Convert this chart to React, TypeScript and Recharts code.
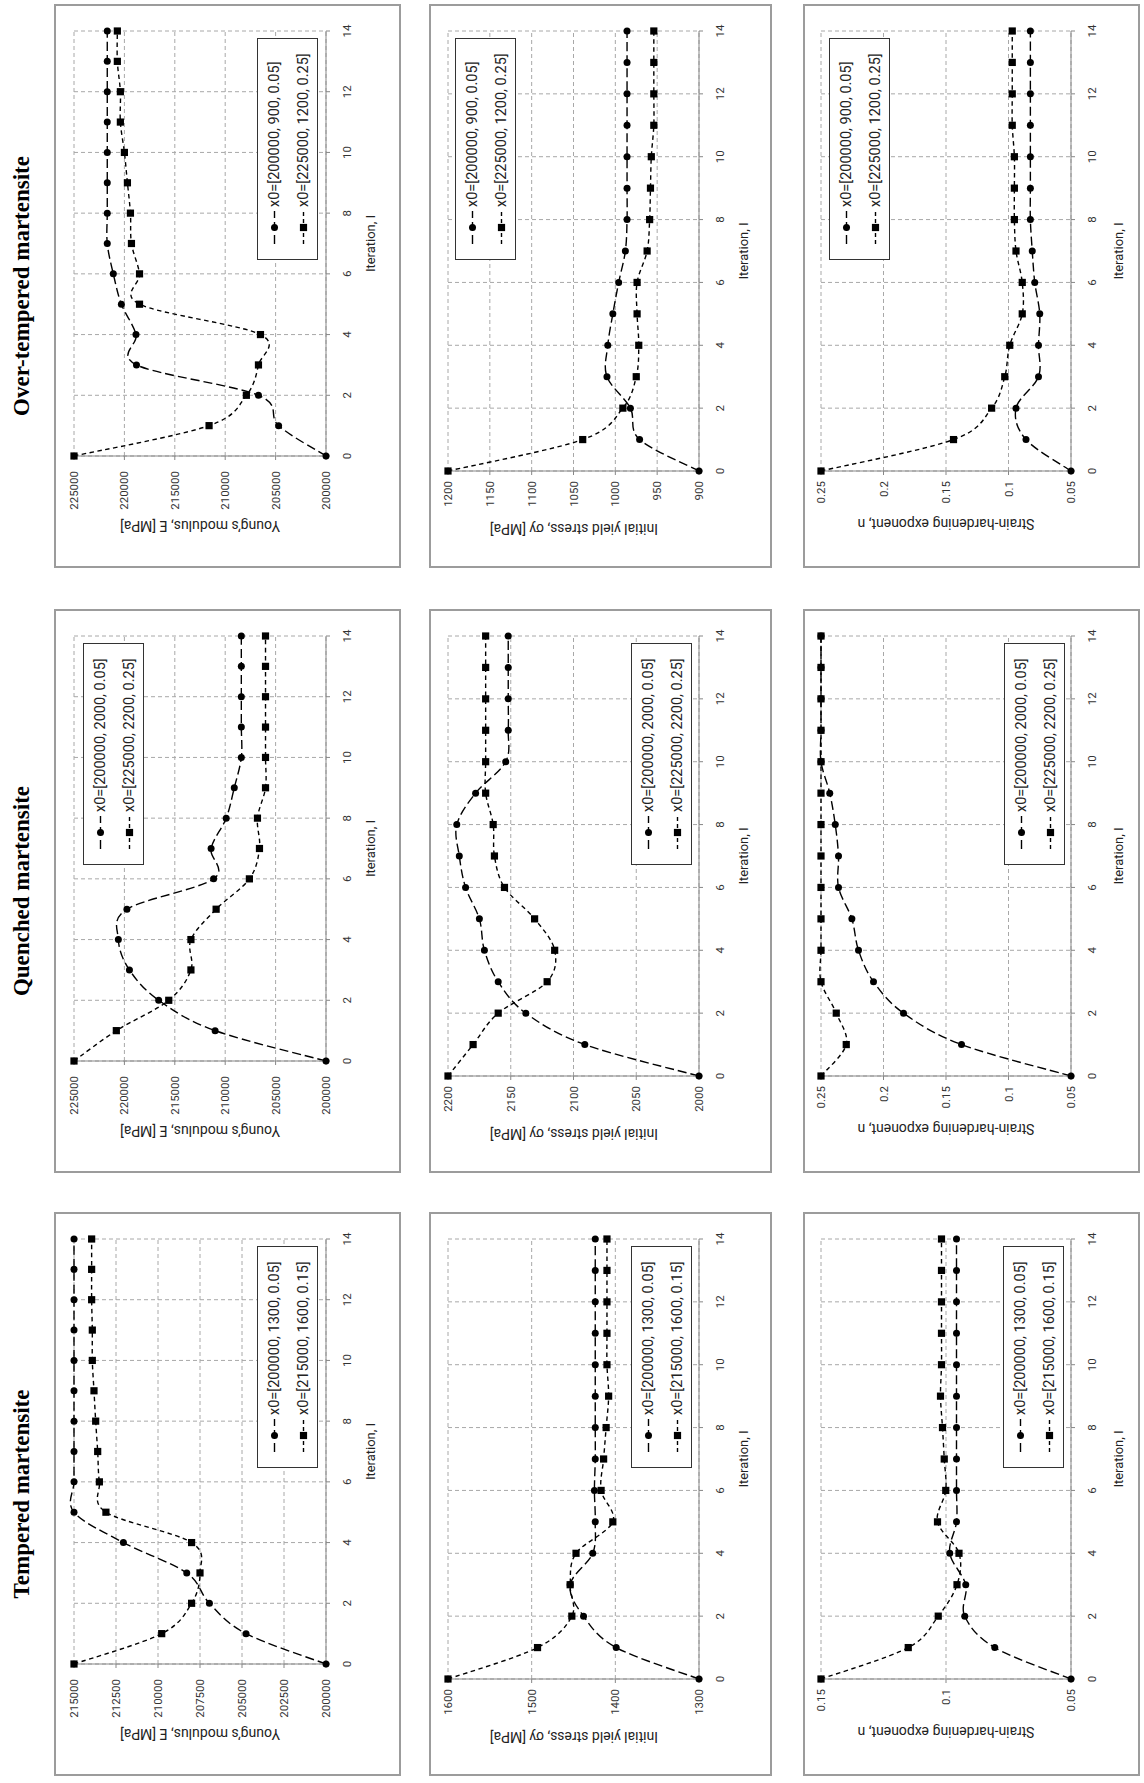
import React from "react";
import { LineChart, Line, XAxis, YAxis, CartesianGrid } from "recharts";

// The figure is laid out landscape (materials in columns, properties in rows)
// and the whole page is then turned 90 degrees counter-clockwise, like the scan.

const ITERATIONS = [0, 1, 2, 3, 4, 5, 6, 7, 8, 9, 10, 11, 12, 13, 14];
const ITER_TICKS = [0, 2, 4, 6, 8, 10, 12, 14];

// tick labels of the value axes
const E_TICKS = [200000, 205000, 210000, 215000, 220000, 225000];
const E_TICKS_T = [200000, 202500, 205000, 207500, 210000, 212500, 215000];
const S_TICKS_OT = [900, 950, 1000, 1050, 1100, 1150, 1200];
const S_TICKS_Q = [2000, 2050, 2100, 2150, 2200];
const S_TICKS_T = [1300, 1400, 1500, 1600];
const N_TICKS = [0.05, 0.1, 0.15, 0.2, 0.25];
const N_TICKS_T = [0.05, 0.1, 0.15];

// Over-tempered martensite
const OT_LABELS = ["x0=[200000, 900, 0.05]", "x0=[225000, 1200, 0.25]"];
const OT_E_A = [200000, 204700, 206700, 218800, 218850, 220300, 221100, 221700, 221700, 221700, 221700, 221700, 221700, 221700, 221700];
const OT_E_B = [225000, 211600, 207900, 206700, 206500, 218500, 218500, 219300, 219400, 219700, 220000, 220400, 220400, 220700, 220700];
const OT_S_A = [900, 971, 982, 1010, 1009, 1003, 996, 988, 986, 986, 986, 986, 986, 986, 986];
const OT_S_B = [1200, 1039, 991, 975, 972, 974, 974, 962, 959, 958, 957, 954, 954, 954, 954];
const OT_N_A = [0.05, 0.086, 0.094, 0.076, 0.076, 0.075, 0.079, 0.081, 0.0825, 0.0825, 0.0825, 0.0825, 0.0825, 0.0825, 0.0825];
const OT_N_B = [0.25, 0.144, 0.1135, 0.103, 0.099, 0.089, 0.089, 0.094, 0.0953, 0.0953, 0.0953, 0.097, 0.097, 0.097, 0.097];

// Quenched martensite
const Q_LABELS = ["x0=[200000, 2000, 0.05]", "x0=[225000, 2200, 0.25]"];
const Q_E_A = [200000, 211000, 216600, 219500, 220600, 219750, 211150, 211400, 209900, 209100, 208400, 208400, 208400, 208400, 208400];
const Q_E_B = [225000, 220800, 215600, 213400, 213400, 210900, 207600, 206600, 206800, 206000, 206000, 206000, 206000, 206000, 206000];
const Q_S_A = [2000, 2091, 2138, 2160, 2171, 2175, 2186, 2191, 2193, 2178, 2154, 2152, 2152, 2152, 2152];
const Q_S_B = [2200, 2180, 2160, 2121, 2115, 2131, 2155, 2163, 2164, 2170, 2170, 2170, 2170, 2170, 2170];
const Q_N_A = [0.05, 0.1376, 0.184, 0.208, 0.22, 0.2253, 0.236, 0.236, 0.2386, 0.243, 0.25, 0.25, 0.25, 0.25, 0.25];
const Q_N_B = [0.25, 0.2298, 0.2378, 0.25, 0.25, 0.25, 0.25, 0.25, 0.25, 0.25, 0.25, 0.25, 0.25, 0.25, 0.25];

// Tempered martensite
const T_LABELS = ["x0=[200000, 1300, 0.05]", "x0=[215000, 1600, 0.15]"];
const T_E_A = [200000, 204760, 206940, 208290, 212060, 215000, 215000, 215000, 215000, 215000, 215000, 215000, 215000, 215000, 215000];
const T_E_B = [215000, 209780, 208000, 207500, 208000, 213100, 213490, 213590, 213710, 213810, 213910, 213910, 213950, 213950, 213950];
const T_S_A = [1300, 1399, 1438, 1454, 1427, 1424, 1425, 1424, 1424, 1424, 1424, 1424, 1424, 1424, 1424];
const T_S_B = [1600, 1493, 1452, 1454, 1447, 1403, 1417, 1414, 1411, 1408, 1410, 1410, 1410, 1410, 1410];
const T_N_A = [0.05, 0.0805, 0.0925, 0.0921, 0.0985, 0.0958, 0.0958, 0.0958, 0.0958, 0.0958, 0.0958, 0.0958, 0.0958, 0.0958, 0.0958];
const T_N_B = [0.15, 0.1151, 0.1031, 0.0956, 0.0948, 0.1034, 0.1001, 0.1007, 0.1014, 0.1022, 0.1018, 0.1018, 0.1018, 0.1018, 0.1018];

const E_TITLE = "Young\u2019s modulus, E [MPa]";
const S_TITLE = "Initial yield stress, \u03c3y [MPa]";
const N_TITLE = "Strain-hardening exponent, n";

const FONT = "Roboto, 'Liberation Sans', sans-serif";

// Excel-like smoothed line (Catmull-Rom through the points)
const excelCurve = (context: any) => {
  let pts: number[][] = [];
  return {
    areaStart() {},
    areaEnd() {},
    lineStart() {
      pts = [];
    },
    point(x: number, y: number) {
      pts.push([+x, +y]);
    },
    lineEnd() {
      if (!pts.length) return;
      context.moveTo(pts[0][0], pts[0][1]);
      for (let i = 0; i < pts.length - 1; i++) {
        const p0 = pts[Math.max(i - 1, 0)];
        const p1 = pts[i];
        const p2 = pts[i + 1];
        const p3 = pts[Math.min(i + 2, pts.length - 1)];
        context.bezierCurveTo(
          p1[0] + (p2[0] - p0[0]) / 6,
          p1[1] + (p2[1] - p0[1]) / 6,
          p2[0] - (p3[0] - p1[0]) / 6,
          p2[1] - (p3[1] - p1[1]) / 6,
          p2[0],
          p2[1]
        );
      }
    },
  };
};

const SquareDot = (props: any) => {
  const { cx, cy, index } = props;
  if (cx == null || cy == null) return <g key={`sq-${index}`} />;
  return <rect key={`sq-${index}`} x={cx - 3.6} y={cy - 3.6} width={7.2} height={7.2} fill="#000" />;
};

// page geometry (landscape coordinates, before the page is turned)
const ROW_X = [1215, 610, 7]; // over-tempered, quenched, tempered
const PANEL_W = 564;
const PLOT_RIGHT = 537; // iteration 14, from the frame's left edge
const COLS = [
  { y: 54, h: 347, top: 74, bottom: 326, lead: 112, titleOff: 70, gap: 11, xTitle: 44 }, // E
  { y: 429, h: 343, top: 448, bottom: 699, lead: 97, titleOff: 58, gap: 6, xTitle: 44 }, // sigma
  { y: 803, h: 337, top: 821, bottom: 1071, lead: 97, titleOff: 53, gap: 6, xTitle: 47 }, // n
];
const LEGEND_X = 308;
const LEGEND_Y = [
  [257, 455, 829],
  [83, 631, 1004],
  [257, 631, 1003],
];

type PanelCfg = {
  row: number;
  col: number;
  a: number[];
  b: number[];
  labels: string[];
  domain: number[];
  ticks: number[];
  yTitle: string;
};

const PANELS: PanelCfg[] = [
  { row: 0, col: 0, a: OT_E_A, b: OT_E_B, labels: OT_LABELS, domain: [200000, 225000], ticks: E_TICKS, yTitle: E_TITLE },
  { row: 0, col: 1, a: OT_S_A, b: OT_S_B, labels: OT_LABELS, domain: [900, 1200], ticks: S_TICKS_OT, yTitle: S_TITLE },
  { row: 0, col: 2, a: OT_N_A, b: OT_N_B, labels: OT_LABELS, domain: [0.05, 0.25], ticks: N_TICKS, yTitle: N_TITLE },
  { row: 1, col: 0, a: Q_E_A, b: Q_E_B, labels: Q_LABELS, domain: [200000, 225000], ticks: E_TICKS, yTitle: E_TITLE },
  { row: 1, col: 1, a: Q_S_A, b: Q_S_B, labels: Q_LABELS, domain: [2000, 2200], ticks: S_TICKS_Q, yTitle: S_TITLE },
  { row: 1, col: 2, a: Q_N_A, b: Q_N_B, labels: Q_LABELS, domain: [0.05, 0.25], ticks: N_TICKS, yTitle: N_TITLE },
  { row: 2, col: 0, a: T_E_A, b: T_E_B, labels: T_LABELS, domain: [200000, 215000], ticks: E_TICKS_T, yTitle: E_TITLE },
  { row: 2, col: 1, a: T_S_A, b: T_S_B, labels: T_LABELS, domain: [1300, 1600], ticks: S_TICKS_T, yTitle: S_TITLE },
  { row: 2, col: 2, a: T_N_A, b: T_N_B, labels: T_LABELS, domain: [0.05, 0.15], ticks: N_TICKS_T, yTitle: N_TITLE },
];

const TITLES = [
  { text: "Over-tempered martensite", cx: 1497 },
  { text: "Quenched martensite", cx: 892 },
  { text: "Tempered martensite", cx: 289 },
];

function LegendBox({ x, y, labels }: { x: number; y: number; labels: string[] }) {
  return (
    <div
      style={{
        position: "absolute",
        left: x,
        top: y,
        width: 222,
        height: 61,
        border: "1px solid #333",
        background: "#fff",
        boxSizing: "border-box",
      }}
    >
      {labels.map((lab, i) => (
        <div
          key={lab}
          style={{
            position: "absolute",
            left: 15,
            top: i === 0 ? 16 : 45,
            transform: "translateY(-50%)",
            display: "flex",
            alignItems: "center",
            whiteSpace: "nowrap",
            fontSize: 14.5,
            color: "#222",
          }}
        >
          <svg width={33} height={10}>
            <line x1={0} y1={5} x2={33} y2={5} stroke="#000" strokeWidth={1.4} strokeDasharray={i === 0 ? "9 4" : "4 3"} />
            {i === 0 ? <circle cx={16.5} cy={5} r={3.5} fill="#000" /> : <rect x={12.9} y={1.4} width={7.2} height={7.2} fill="#000" />}
          </svg>
          <span style={{ marginLeft: 4 }}>{lab}</span>
        </div>
      ))}
    </div>
  );
}

function Panel({ cfg }: { cfg: PanelCfg }) {
  const c = COLS[cfg.col];
  const fx = ROW_X[cfg.row];
  const plotL = fx + c.lead;
  const plotR = fx + PLOT_RIGHT;
  const rows = ITERATIONS.map((it, i) => ({ it, a: cfg.a[i], b: cfg.b[i] }));
  const tick = { fontSize: 11.5, fill: "#333" };
  return (
    <>
      <div
        style={{
          position: "absolute",
          left: fx,
          top: c.y,
          width: PANEL_W,
          height: c.h,
          border: "2px solid #9c9c9c",
          boxSizing: "border-box",
        }}
      />
      <div style={{ position: "absolute", left: fx, top: c.y }}>
        <LineChart
          width={PANEL_W}
          height={c.h}
          data={rows}
          margin={{ top: c.top - c.y, right: PANEL_W - PLOT_RIGHT, bottom: 0, left: 0 }}
        >
          <CartesianGrid stroke="#a8a8a8" strokeDasharray="4 3" />
          <XAxis
            type="number"
            dataKey="it"
            domain={[0, 14]}
            ticks={ITER_TICKS}
            interval={0}
            height={c.y + c.h - c.bottom}
            tickSize={4}
            tickMargin={13}
            stroke="#878787"
            tick={tick}
          />
          <YAxis
            type="number"
            domain={cfg.domain}
            ticks={cfg.ticks}
            interval={0}
            width={c.lead}
            tickSize={4}
            tickMargin={c.gap}
            stroke="#878787"
            tick={tick}
          />
          <Line
            dataKey="a"
            type={excelCurve as any}
            stroke="#000"
            strokeWidth={1.4}
            strokeDasharray="9 4"
            dot={{ r: 3.5, fill: "#000", stroke: "none" }}
            isAnimationActive={false}
          />
          <Line
            dataKey="b"
            type={excelCurve as any}
            stroke="#000"
            strokeWidth={1.4}
            strokeDasharray="4.5 3.5"
            dot={SquareDot}
            isAnimationActive={false}
          />
        </LineChart>
      </div>
      <div
        style={{
          position: "absolute",
          left: plotL - c.titleOff,
          top: (c.top + c.bottom) / 2,
          transform: "translate(-50%, -50%) rotate(-90deg)",
          whiteSpace: "nowrap",
          fontSize: 14,
          color: "#222",
        }}
      >
        {cfg.yTitle}
      </div>
      <div
        style={{
          position: "absolute",
          left: (plotL + plotR) / 2,
          top: c.bottom + c.xTitle,
          transform: "translate(-50%, -50%)",
          whiteSpace: "nowrap",
          fontSize: 13,
          color: "#222",
        }}
      >
        Iteration, I
      </div>
      <LegendBox x={fx + LEGEND_X} y={LEGEND_Y[cfg.row][cfg.col]} labels={cfg.labels} />
    </>
  );
}

export default function App() {
  return (
    <div style={{ position: "absolute", left: 0, top: 0, width: 1144, height: 1783, overflow: "hidden", background: "#fff" }}>
      <div
        style={{
          position: "absolute",
          left: 0,
          top: 0,
          width: 1783,
          height: 1144,
          transformOrigin: "0 0",
          transform: "translate(0px, 1783px) rotate(-90deg)",
          fontFamily: FONT,
        }}
      >
        {TITLES.map((t) => (
          <div
            key={t.text}
            style={{
              position: "absolute",
              left: t.cx,
              top: 22,
              transform: "translate(-50%, -50%)",
              whiteSpace: "nowrap",
              fontFamily: "'Liberation Serif', 'Times New Roman', serif",
              fontWeight: 700,
              fontSize: 23,
              color: "#000",
            }}
          >
            {t.text}
          </div>
        ))}
        {PANELS.map((p, i) => (
          <Panel key={i} cfg={p} />
        ))}
      </div>
    </div>
  );
}
